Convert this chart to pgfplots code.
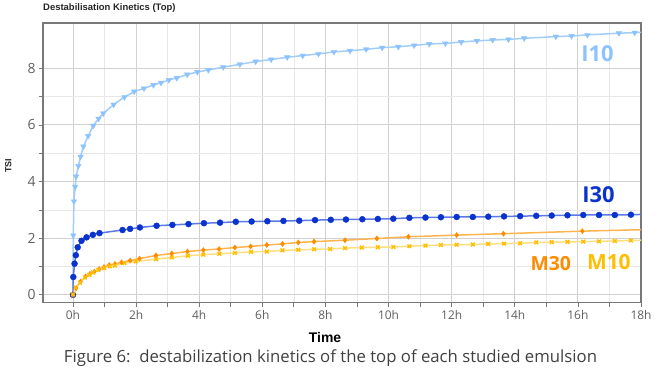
\documentclass[border=0pt]{standalone}
\usepackage{pgfplots}
\pgfplotsset{compat=1.18}
\usepackage{pgfplotstable}
\usepackage{fontspec}
\setmainfont{Open Sans}
\newfontfamily\arialf{Liberation Sans}

\definecolor{tickgrey}{RGB}{95,95,95}
\definecolor{framegrey}{RGB}{120,120,120}
\definecolor{gridmaj}{RGB}{208,208,208}
\definecolor{gridmin}{RGB}{232,232,232}
\definecolor{ItenC}{RGB}{140,195,255}
\definecolor{ItenL}{RGB}{160,205,250}
\definecolor{IthirtyC}{RGB}{10,50,205}
\definecolor{IthirtyL}{RGB}{90,120,230}
\definecolor{MthirtyC}{RGB}{255,140,0}
\definecolor{MthirtyL}{RGB}{255,180,80}
\definecolor{MtenC}{RGB}{255,190,0}
\definecolor{MtenL}{RGB}{255,222,130}

\pgfplotstableread{
t tsi
0 0
0.01 2.1
0.03 3.3
0.07 3.82
0.1 4.18
0.17 4.55
0.24 4.88
0.33 5.24
0.48 5.61
0.64 5.97
0.81 6.22
0.96 6.41
1.29 6.72
1.63 6.98
1.94 7.18
2.25 7.29
2.55 7.41
2.79 7.49
3.04 7.59
3.29 7.66
3.62 7.78
3.94 7.87
4.29 7.94
4.76 8.04
5.29 8.14
5.79 8.24
6.28 8.31
6.79 8.39
7.28 8.45
7.78 8.51
8.27 8.58
8.78 8.62
9.29 8.67
9.8 8.73
10.31 8.76
10.81 8.81
11.29 8.86
11.8 8.88
12.3 8.93
12.8 8.97
13.3 9.0
13.8 9.02
14.3 9.06
15.3 9.12
15.8 9.14
16.3 9.18
17.3 9.24
17.8 9.26
18 9.27
}\Iten

\pgfplotstableread{
t tsi
0 0
0.01 0.63
0.05 1.1
0.09 1.4
0.15 1.68
0.27 1.91
0.43 2.03
0.63 2.12
0.84 2.18
1.57 2.29
1.81 2.33
2.12 2.38
2.65 2.44
3.15 2.47
3.66 2.5
4.15 2.53
4.66 2.55
5.16 2.58
5.66 2.59
6.16 2.6
6.67 2.61
7.17 2.62
7.67 2.64
8.17 2.65
8.65 2.66
9.17 2.67
9.66 2.68
10.15 2.69
10.66 2.72
11.17 2.73
11.66 2.74
12.16 2.75
12.67 2.75
13.16 2.76
13.66 2.77
14.17 2.78
14.68 2.79
15.17 2.8
15.67 2.81
16.17 2.82
16.67 2.82
17.17 2.82
17.68 2.83
18 2.84
}\Ithirty

\pgfplotstableread{
t tsi
0 0
0.1 0.24
0.24 0.47
0.4 0.65
0.54 0.74
0.68 0.82
0.83 0.91
0.98 0.98
1.15 1.05
1.33 1.09
1.54 1.15
1.81 1.21
2.11 1.28
2.63 1.39
3.13 1.46
3.63 1.53
4.13 1.58
4.63 1.62
5.13 1.67
5.63 1.71
6.14 1.76
6.64 1.8
7.14 1.85
7.64 1.88
8.62 1.93
9.63 1.99
10.63 2.05
12.16 2.11
13.64 2.16
16.14 2.25
18 2.3
}\Mthirty

\pgfplotstableread{
t tsi
0 0.02
0.08 0.26
0.22 0.43
0.38 0.61
0.52 0.71
0.64 0.79
0.8 0.88
0.99 0.95
1.17 1.01
1.33 1.03
1.63 1.12
1.99 1.18
2.63 1.26
3.13 1.32
3.64 1.38
4.13 1.42
4.64 1.45
5.13 1.48
5.64 1.52
6.14 1.53
6.64 1.57
7.14 1.59
7.64 1.61
8.15 1.62
8.62 1.65
9.15 1.67
9.66 1.68
10.15 1.69
10.66 1.72
11.17 1.74
11.66 1.76
12.16 1.77
12.67 1.78
13.16 1.8
13.66 1.81
14.17 1.82
14.68 1.85
15.17 1.86
15.67 1.87
16.17 1.88
16.67 1.89
17.17 1.9
17.68 1.92
18 1.93
}\Mten

\begin{document}
\begin{tikzpicture}[x=1bp,y=1bp]
\useasboundingbox (0,0) rectangle (669,375);
\begin{axis}[
  at={(43bp,72.5bp)}, anchor=south west,
  scale only axis, width=598bp, height=279.5bp,
  xmin=-0.95, xmax=18, ymin=-0.27, ymax=9.6,
  xtick={0,2,...,18}, minor x tick num=1,
  ytick={0,2,...,8}, minor y tick num=1,
  xticklabel={\pgfmathprintnumber{\tick}h},
  /pgf/number format/assume math mode=true,
  grid=both,
  major grid style={draw=gridmaj, line width=0.9bp},
  minor grid style={draw=gridmin, line width=0.7bp},
  axis line style={draw=framegrey, line width=1.1bp},
  tick align=outside,
  major tick length=4bp, minor tick length=4bp,
  tick style={draw=framegrey, line width=0.8bp},
  xtick pos=bottom, ytick pos=left,
  xticklabel style={font=\fontsize{12}{14}\selectfont, text=tickgrey},
  yticklabel style={font=\fontsize{14}{16}\selectfont, text=tickgrey},
  xlabel={Time},
  xlabel style={font=\arialf\bfseries\fontsize{14}{16}\selectfont, text=black,
    at={(axis description cs:0.4716,-0.1252)}, anchor=center, inner sep=0pt},
  ylabel={TSI},
  ylabel style={font=\arialf\bfseries\fontsize{9}{11}\selectfont, text=black!85,
    at={(axis description cs:-0.058,0.49)}, anchor=center, rotate=0, inner sep=0pt},
  clip=false,
]
\addplot[ItenL, line width=1.5bp, no markers] table[x=t,y=tsi] {\Iten};
\addplot[only marks, mark=triangle*, mark size=3.2bp, mark options={rotate=180, fill=ItenC, draw=ItenC}, restrict x to domain=-1:17.95] table[x=t,y=tsi] {\Iten};
\addplot[IthirtyL, line width=1.5bp, no markers] table[x=t,y=tsi] {\Ithirty};
\addplot[only marks, mark=*, mark size=3bp, mark options={fill=IthirtyC, draw=IthirtyC}, restrict x to domain=-1:17.95] table[x=t,y=tsi] {\Ithirty};
\addplot[MthirtyL, line width=1.5bp, no markers] table[x=t,y=tsi] {\Mthirty};
\addplot[only marks, mark=diamond*, mark size=2.6bp, mark options={fill=MthirtyC, draw=MthirtyC}, restrict x to domain=-1:17.95] table[x=t,y=tsi] {\Mthirty};
\addplot[MtenL, line width=1.5bp, no markers] table[x=t,y=tsi] {\Mten};
\addplot[only marks, mark=x, mark size=2.6bp, mark options={draw=MtenC, line width=1.4bp}, restrict x to domain=-1:17.95] table[x=t,y=tsi] {\Mten};
\node[text=ItenC, font=\bfseries\fontsize{22}{24}\selectfont, inner sep=0pt] at (axis cs:16.62,8.51) {I10};
\node[text=IthirtyC, font=\bfseries\fontsize{22}{24}\selectfont, inner sep=0pt] at (axis cs:16.65,3.55) {I30};
\node[text=MthirtyC, font=\bfseries\fontsize{19.5}{22}\selectfont, inner sep=0pt] at (axis cs:15.14,1.10) {M30};
\node[text=MtenC, font=\bfseries\fontsize{21}{23}\selectfont, inner sep=0pt] at (axis cs:16.98,1.15) {M10};
\end{axis}
\node[anchor=west, font=\arialf\bfseries\fontsize{9.5}{11}\selectfont, text=black!85, inner sep=0pt] at (43,367) {Destabilisation Kinetics (Top)};
\node[anchor=base, font=\fontsize{16.8}{18}\selectfont, text=black!75, inner sep=0pt] at (330.5,12.5) {Figure 6:\ \ destabilization kinetics of the top of each studied emulsion};
\end{tikzpicture}
\end{document}
